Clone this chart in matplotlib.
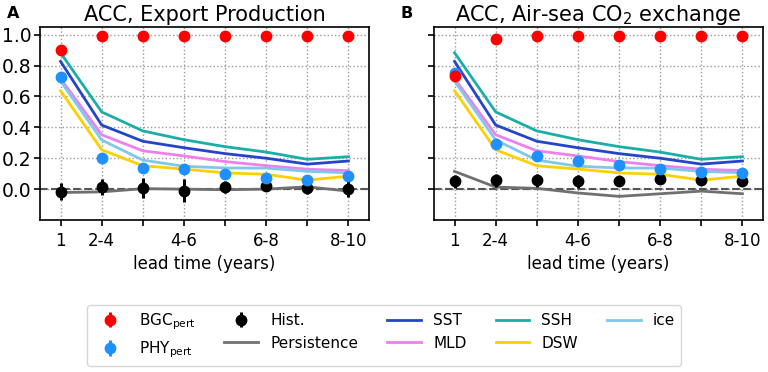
import matplotlib
matplotlib.use("Agg")
import matplotlib.pyplot as plt
import numpy as np

lead = [1, 2, 3, 4, 5, 6, 7, 8]
tick_labels = ["1", "2-4", "", "4-6", "", "6-8", "", "8-10"]

# Panel A: ACC, Export Production
A_bgc = [0.90, 0.99, 0.99, 0.99, 0.99, 0.99, 0.99, 0.99]
A_phy = [0.725, 0.20, 0.134, 0.128, 0.095, 0.069, 0.058, 0.084]
A_phy_err = [0.01, 0.03, 0.02, 0.02, 0.015, 0.01, 0.01, 0.01]
A_hist = [-0.017, 0.013, 0.010, -0.009, 0.013, 0.022, 0.008, 0.004]
A_hist_err = [0.055, 0.05, 0.065, 0.075, 0.04, 0.03, 0.04, 0.055]
A_pers = [-0.022, -0.018, 0.003, 0.0, -0.004, 0.0, 0.015, -0.013]

# Panel B: ACC, Air-sea CO2 exchange
B_bgc = [0.73, 0.975, 0.99, 0.99, 0.99, 0.99, 0.99, 0.99]
B_phy = [0.75, 0.29, 0.212, 0.18, 0.158, 0.13, 0.11, 0.106]
B_phy_err = [0.01, 0.01, 0.01, 0.01, 0.01, 0.01, 0.01, 0.01]
B_hist = [0.05, 0.056, 0.056, 0.05, 0.05, 0.063, 0.06, 0.05]
B_hist_err = [0.04, 0.045, 0.045, 0.04, 0.03, 0.03, 0.03, 0.03]
B_pers = [0.115, 0.013, 0.005, -0.025, -0.047, -0.03, -0.013, -0.03]

# Physical predictors (same in both panels)
SST = [0.827, 0.415, 0.31, 0.268, 0.23, 0.20, 0.162, 0.182]
SSH = [0.883, 0.50, 0.377, 0.32, 0.275, 0.240, 0.193, 0.21]
MLD = [0.716, 0.352, 0.248, 0.215, 0.178, 0.152, 0.129, 0.12]
DSW = [0.637, 0.255, 0.151, 0.13, 0.105, 0.096, 0.058, 0.084]
ICE = [0.70, 0.318, 0.188, 0.148, 0.137, 0.136, 0.115, 0.106]

c_sst = "#2445c8"
c_ssh = "#1aaea6"
c_mld = "#ee80ee"
c_dsw = "#ffd000"
c_ice = "#80c8e6"
c_pers = "#707070"
c_bgc = "#ff0000"
c_phy = "#1e90ff"

fig = plt.figure(figsize=(7.68, 3.72), dpi=100)
axA = fig.add_axes([40/768, 1-220/372, 329/768, 193/372])
axB = fig.add_axes([434/768, 1-220/372, 329/768, 193/372])

handles = {}

def draw(ax, bgc, phy, phy_err, hist, hist_err, pers, title):
    ax.axhline(0, color="#555555", ls="--", lw=1.5, zorder=1)
    handles['pers'], = ax.plot(lead, pers, color=c_pers, lw=2, zorder=2)
    handles['sst'], = ax.plot(lead, SST, color=c_sst, lw=2, zorder=3)
    handles['mld'], = ax.plot(lead, MLD, color=c_mld, lw=2, zorder=3)
    handles['ssh'], = ax.plot(lead, SSH, color=c_ssh, lw=2, zorder=3)
    handles['dsw'], = ax.plot(lead, DSW, color=c_dsw, lw=2, zorder=3)
    handles['ice'], = ax.plot(lead, ICE, color=c_ice, lw=2, zorder=3)
    handles['hist'] = ax.errorbar(lead, hist, yerr=hist_err, fmt="o", color="black",
                                  ms=7.5, elinewidth=2.2, capsize=0, zorder=4)
    handles['phy'] = ax.errorbar(lead, phy, yerr=phy_err, fmt="o", color=c_phy,
                                 ms=7.5, elinewidth=2.2, capsize=0, zorder=5)
    handles['bgc'] = ax.errorbar(lead, bgc, yerr=[0.0]*len(bgc), fmt="o", color=c_bgc,
                                 ms=7.5, elinewidth=2.2, capsize=0, zorder=6)
    ax.set_xlim(0.5, 8.5)
    ax.set_ylim(-0.2, 1.05)
    ax.set_xticks(lead)
    ax.set_xticklabels(tick_labels, fontsize=12)
    ax.set_yticks([0.0, 0.2, 0.4, 0.6, 0.8, 1.0])
    ax.grid(True, ls=":", color="#999999", lw=1)
    ax.set_axisbelow(True)
    ax.set_title(title, fontsize=15, pad=4)
    ax.set_xlabel("lead time (years)", fontsize=12, labelpad=3)
    ax.tick_params(axis="both", length=4, width=1.2)
    ax.tick_params(axis="x", pad=5)
    for s in ax.spines.values():
        s.set_linewidth(1.2)

draw(axA, A_bgc, A_phy, A_phy_err, A_hist, A_hist_err, A_pers, "ACC, Export Production")
draw(axB, B_bgc, B_phy, B_phy_err, B_hist, B_hist_err, B_pers, "ACC, Air-sea CO$_2$ exchange")
axB.set_yticklabels([])
axA.set_yticklabels(["0.0", "0.2", "0.4", "0.6", "0.8", "1.0"], fontsize=13.5)
axA.tick_params(axis="y", pad=2)

fig.text(7/768, 1-14/372, "A", fontsize=11.5, fontweight="bold", va="center")
fig.text(401/768, 1-14/372, "B", fontsize=11.5, fontweight="bold", va="center")

order = ['bgc', 'phy', 'hist', 'pers', 'sst', 'mld', 'ssh', 'dsw', 'ice']
labels = {'bgc': "BGC$_{\\rm pert}$", 'phy': "PHY$_{\\rm pert}$", 'hist': "Hist.",
          'pers': "Persistence", 'sst': "SST", 'mld': "MLD", 'ssh': "SSH",
          'dsw': "DSW", 'ice': "ice"}
fig.legend([handles[k] for k in order], [labels[k] for k in order], ncol=5,
           loc="center", bbox_to_anchor=(0.5, 1-335.5/372), fontsize=11,
           frameon=True, handlelength=2.2, columnspacing=1.9)

fig.savefig("out.png", dpi=100)
